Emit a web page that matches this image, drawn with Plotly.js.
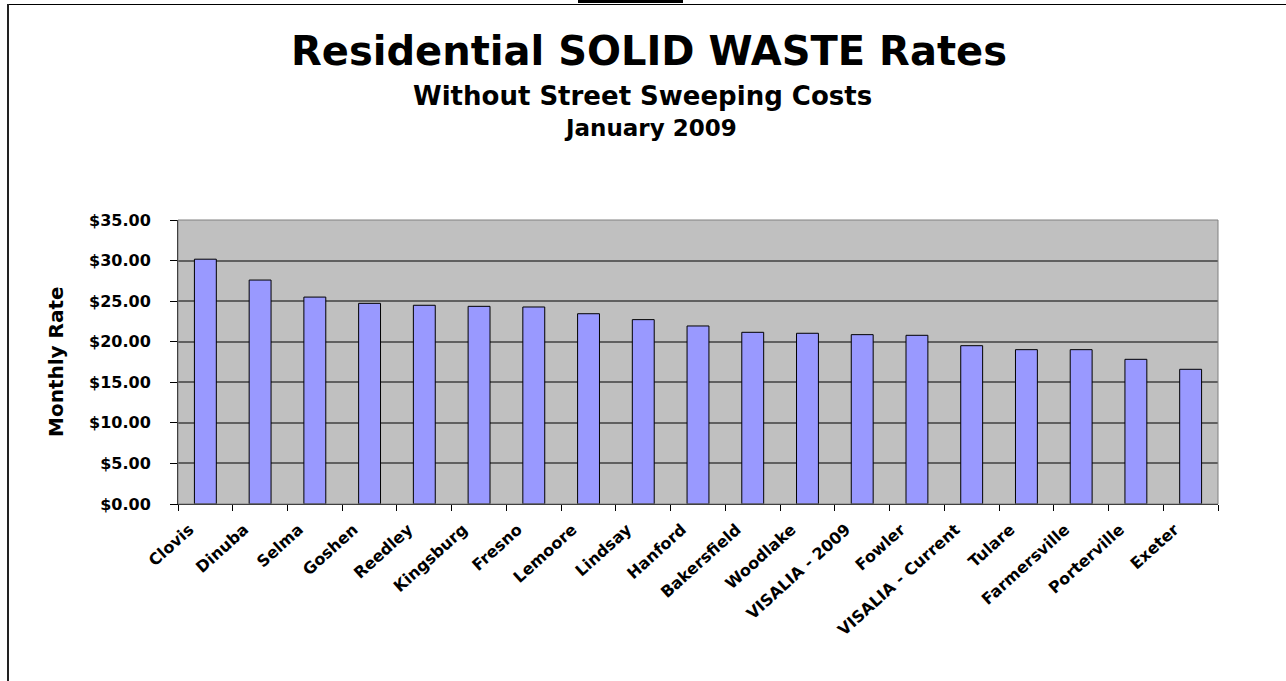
<!DOCTYPE html>
<html>
<head>
<meta charset="utf-8">
<script src="https://cdn.plot.ly/plotly-3.0.1.min.js"></script>
<style>
  html, body { margin: 0; padding: 0; background: #fff; }
  #wrap { position: relative; width: 1286px; height: 681px; overflow: hidden; }
  #chart { position: absolute; left: 0; top: 0; width: 1286px; height: 681px; }
  .line { position: absolute; background: #000; }
</style>
</head>
<body>
<div id="wrap">
  <div id="chart"></div>
  <div class="line" style="left:7px; top:4px; width:1279px; height:1px;"></div>
  <div class="line" style="left:7px; top:4px; width:2px; height:677px; background:#222;"></div>
  <div class="line" style="left:578px; top:0px; width:105px; height:3px;"></div>
</div>
<script>
const cities = ["Clovis", "Dinuba", "Selma", "Goshen", "Reedley", "Kingsburg", "Fresno", "Lemoore",
  "Lindsay", "Hanford", "Bakersfield", "Woodlake", "VISALIA - 2009", "Fowler", "VISALIA - Current",
  "Tulare", "Farmersville", "Porterville", "Exeter"];
const monthlyRates = [30.17, 27.60, 25.50, 24.73, 24.49, 24.36, 24.28, 23.45,
  22.72, 21.94, 21.16, 21.04, 20.87, 20.79, 19.51,
  19.02, 19.02, 17.83, 16.60];
const yTickValues = [0, 5, 10, 15, 20, 25, 30, 35];

const titleText = "Residential SOLID WASTE Rates";
const subtitle1 = "Without Street Sweeping Costs";
const subtitle2 = "January 2009";
const yTitle = "Monthly Rate";

const FONT = "DejaVu Sans, Arial, sans-serif";

const trace = {
  type: "bar",
  x: cities,
  y: monthlyRates,
  marker: { color: "#9999FF", line: { color: "#000000", width: 1 } },
  hoverinfo: "x+y"
};

const layout = {
  width: 1286,
  height: 681,
  margin: { l: 178, r: 68, t: 220, b: 177, pad: 0 },
  paper_bgcolor: "rgba(0,0,0,0)",
  plot_bgcolor: "#C0C0C0",
  showlegend: false,
  bargap: 0.6,
  font: { family: FONT, color: "#000", size: 16 },
  title: {
    text: "<b>" + titleText + "</b>",
    font: { family: FONT, size: 40, color: "#000" },
    x: (649 / 1286), xanchor: "center",
    y: 1 - 51 / 681, yref: "container", yanchor: "middle"
  },
  annotations: [
    { text: "<b>" + subtitle1 + "</b>", xref: "paper", yref: "paper", x: (642 - 178) / 1040, y: (504 - 96) / 284,
      xanchor: "center", yanchor: "middle", showarrow: false, font: { family: FONT, size: 26, color: "#000" } },
    { text: "<b>" + subtitle2 + "</b>", xref: "paper", yref: "paper", x: (650 - 178) / 1040, y: (504 - 128) / 284,
      xanchor: "center", yanchor: "middle", showarrow: false, font: { family: FONT, size: 23, color: "#000" } },
    { text: "<b>" + yTitle + "</b>", xref: "paper", yref: "paper", x: (56 - 178) / 1040, y: 0.5,
      xanchor: "center", yanchor: "middle", textangle: -90, showarrow: false, font: { family: FONT, size: 20, color: "#000" } }
  ],
  xaxis: {
    type: "category",
    tickangle: -42,
    tickson: "boundaries",
    ticks: "outside",
    ticklen: 6,
    tickcolor: "#000",
    ticklabelstandoff: 9,
    ticklabelshift: -16,
    showline: true,
    linecolor: "#000",
    linewidth: 1,
    showgrid: false,
    tickfont: { family: FONT, size: 16, color: "#000", weight: "bold" },
    fixedrange: true
  },
  yaxis: {
    range: [0, 35],
    tickvals: yTickValues,
    tickformat: "$.2f",
    ticks: "outside",
    ticklen: 7,
    tickcolor: "#000",
    ticklabelstandoff: 16,
    showline: true,
    linecolor: "#000",
    linewidth: 1,
    showgrid: true,
    gridcolor: "#606060",
    gridwidth: 2,
    zeroline: false,
    tickfont: { family: FONT, size: 16, color: "#000", weight: "bold" },
    fixedrange: true
  },
  shapes: [
    { type: "rect", xref: "paper", yref: "paper", x0: 0, x1: 1, y0: 0, y1: 1,
      line: { color: "#808080", width: 1 }, fillcolor: "rgba(0,0,0,0)", layer: "above" }
  ]
};

Plotly.newPlot("chart", [trace], layout, { displayModeBar: false, staticPlot: true });
</script>
</body>
</html>
